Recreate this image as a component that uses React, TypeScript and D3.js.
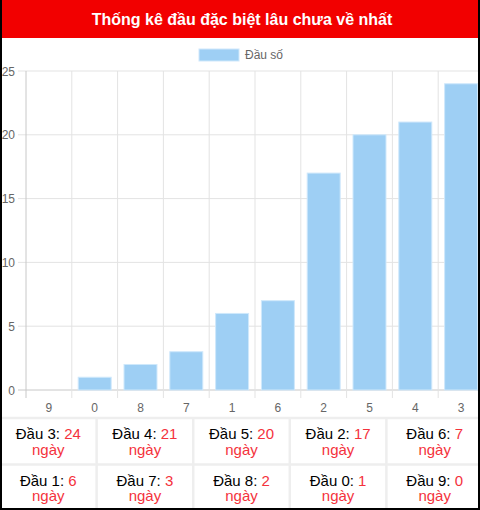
import React from 'react';
import * as d3 from 'd3';

// dữ liệu
const categories = ['9', '0', '8', '7', '1', '6', '2', '5', '4', '3'];
const values = [0, 1, 2, 3, 6, 7, 17, 20, 21, 24];
const yTicks = [0, 5, 10, 15, 20, 25];
const title = 'Thống kê đầu đặc biệt lâu chưa về nhất';
const legendLabel = 'Đầu số';

const W = 480;
const H = 510;
const plot = { left: 26, right: 484, top: 71, bottom: 390 };
const font = 'Arial, "Liberation Sans", Helvetica, sans-serif';

export default function App() {
  const x = d3.scaleBand<string>()
    .domain(categories)
    .range([plot.left, plot.right])
    .paddingInner(0)
    .paddingOuter(0);

  const y = d3.scaleLinear()
    .domain([0, 25])
    .range([plot.bottom, plot.top]);

  const barW = x.bandwidth() * 0.72;

  // bảng: sắp xếp giảm dần theo số ngày
  const rows = categories
    .map((c, i) => ({ c, v: values[i] }))
    .sort((a, b) => b.v - a.v);

  const cellW = 96.6;
  const tableTop = 418;
  const rowH = 46.5;

  return (
    <div style={{ position: 'absolute', left: 0, top: 0, width: W, height: H }}>
      <svg width={W} height={H} viewBox={`0 0 ${W} ${H}`} style={{ display: 'block' }}>
        <defs>
          <clipPath id="frame">
            <rect x={0} y={0} width={478} height={508} />
          </clipPath>
        </defs>
        <rect x={0} y={0} width={W} height={H} fill="#fff" />

        <g clipPath="url(#frame)">
          {/* tiêu đề */}
          <rect x={0} y={0} width={W} height={38} fill="#f20000" />
          <text x={242} y={25} textAnchor="middle" fill="#fff"
            style={{ fontFamily: font, fontSize: 16, fontWeight: 'bold' }}>
            {title}
          </text>

          {/* chú thích */}
          <rect x={199} y={49} width={40} height={12} fill="#9ecff4" stroke="#cfe8fb" strokeWidth={1} />
          <text x={245} y={59} fill="#666"
            style={{ fontFamily: font, fontSize: 12 }}>
            {legendLabel}
          </text>

          {/* lưới ngang */}
          {yTicks.map(t => (
            <g key={'y' + t}>
              <line x1={18} x2={plot.right + 10} y1={y(t)} y2={y(t)}
                stroke={t === 0 ? '#c8c8c8' : '#e3e3e3'} strokeWidth={1} />
              <text x={15} y={y(t) + 4.5} textAnchor="end" fill="#666"
                style={{ fontFamily: font, fontSize: 12 }}>
                {t}
              </text>
            </g>
          ))}

          {/* lưới dọc */}
          {categories.map(c => (
            <line key={'gx' + c} x1={x(c)!} x2={x(c)!} y1={plot.top} y2={plot.bottom + 8}
              stroke={c === categories[0] ? '#c8c8c8' : '#e3e3e3'} strokeWidth={1} />
          ))}

          {/* cột */}
          {categories.map((c, i) => {
            const bx = x(c)! + (x.bandwidth() - barW) / 2;
            const by = y(values[i]);
            return values[i] > 0 ? (
              <rect key={'b' + c} x={bx} y={by} width={barW} height={plot.bottom - by}
                fill="#9ecff4" stroke="#cfe8fb" strokeWidth={1} />
            ) : null;
          })}

          {/* nhãn trục x */}
          {categories.map(c => (
            <text key={'xl' + c} x={x(c)! + x.bandwidth() / 2} y={412} textAnchor="middle" fill="#666"
              style={{ fontFamily: font, fontSize: 12 }}>
              {c}
            </text>
          ))}

          {/* bảng */}
          {rows.map((r, i) => {
            const col = i % 5;
            const row = Math.floor(i / 5);
            const cx = col * cellW + cellW / 2;
            const cy = tableTop + row * rowH;
            return (
              <g key={'t' + r.c}>
                <text x={cx} y={cy + 21} textAnchor="middle"
                  style={{ fontFamily: font, fontSize: 15 }}>
                  <tspan fill="#000">{`Đầu ${r.c}: `}</tspan>
                  <tspan fill="#f4323c">{r.v}</tspan>
                </text>
                <text x={cx} y={cy + 36.5} textAnchor="middle" fill="#f4323c"
                  style={{ fontFamily: font, fontSize: 15 }}>
                  ngày
                </text>
              </g>
            );
          })}
          {[0, 1, 2].map(k => (
            <line key={'hr' + k} x1={0} x2={W} y1={tableTop + k * rowH} y2={tableTop + k * rowH}
              stroke="#eee" strokeWidth={2.5} />
          ))}
          {[1, 2, 3, 4].map(k => (
            <line key={'vr' + k} x1={k * cellW} x2={k * cellW} y1={tableTop} y2={H}
              stroke="#eee" strokeWidth={2.5} />
          ))}
        </g>

        {/* viền ngoài */}
        <rect x={0} y={0} width={2} height={H} fill="#000" />
        <rect x={478} y={0} width={2} height={H} fill="#000" />
        <rect x={0} y={508} width={W} height={2} fill="#000" />
      </svg>
    </div>
  );
}
